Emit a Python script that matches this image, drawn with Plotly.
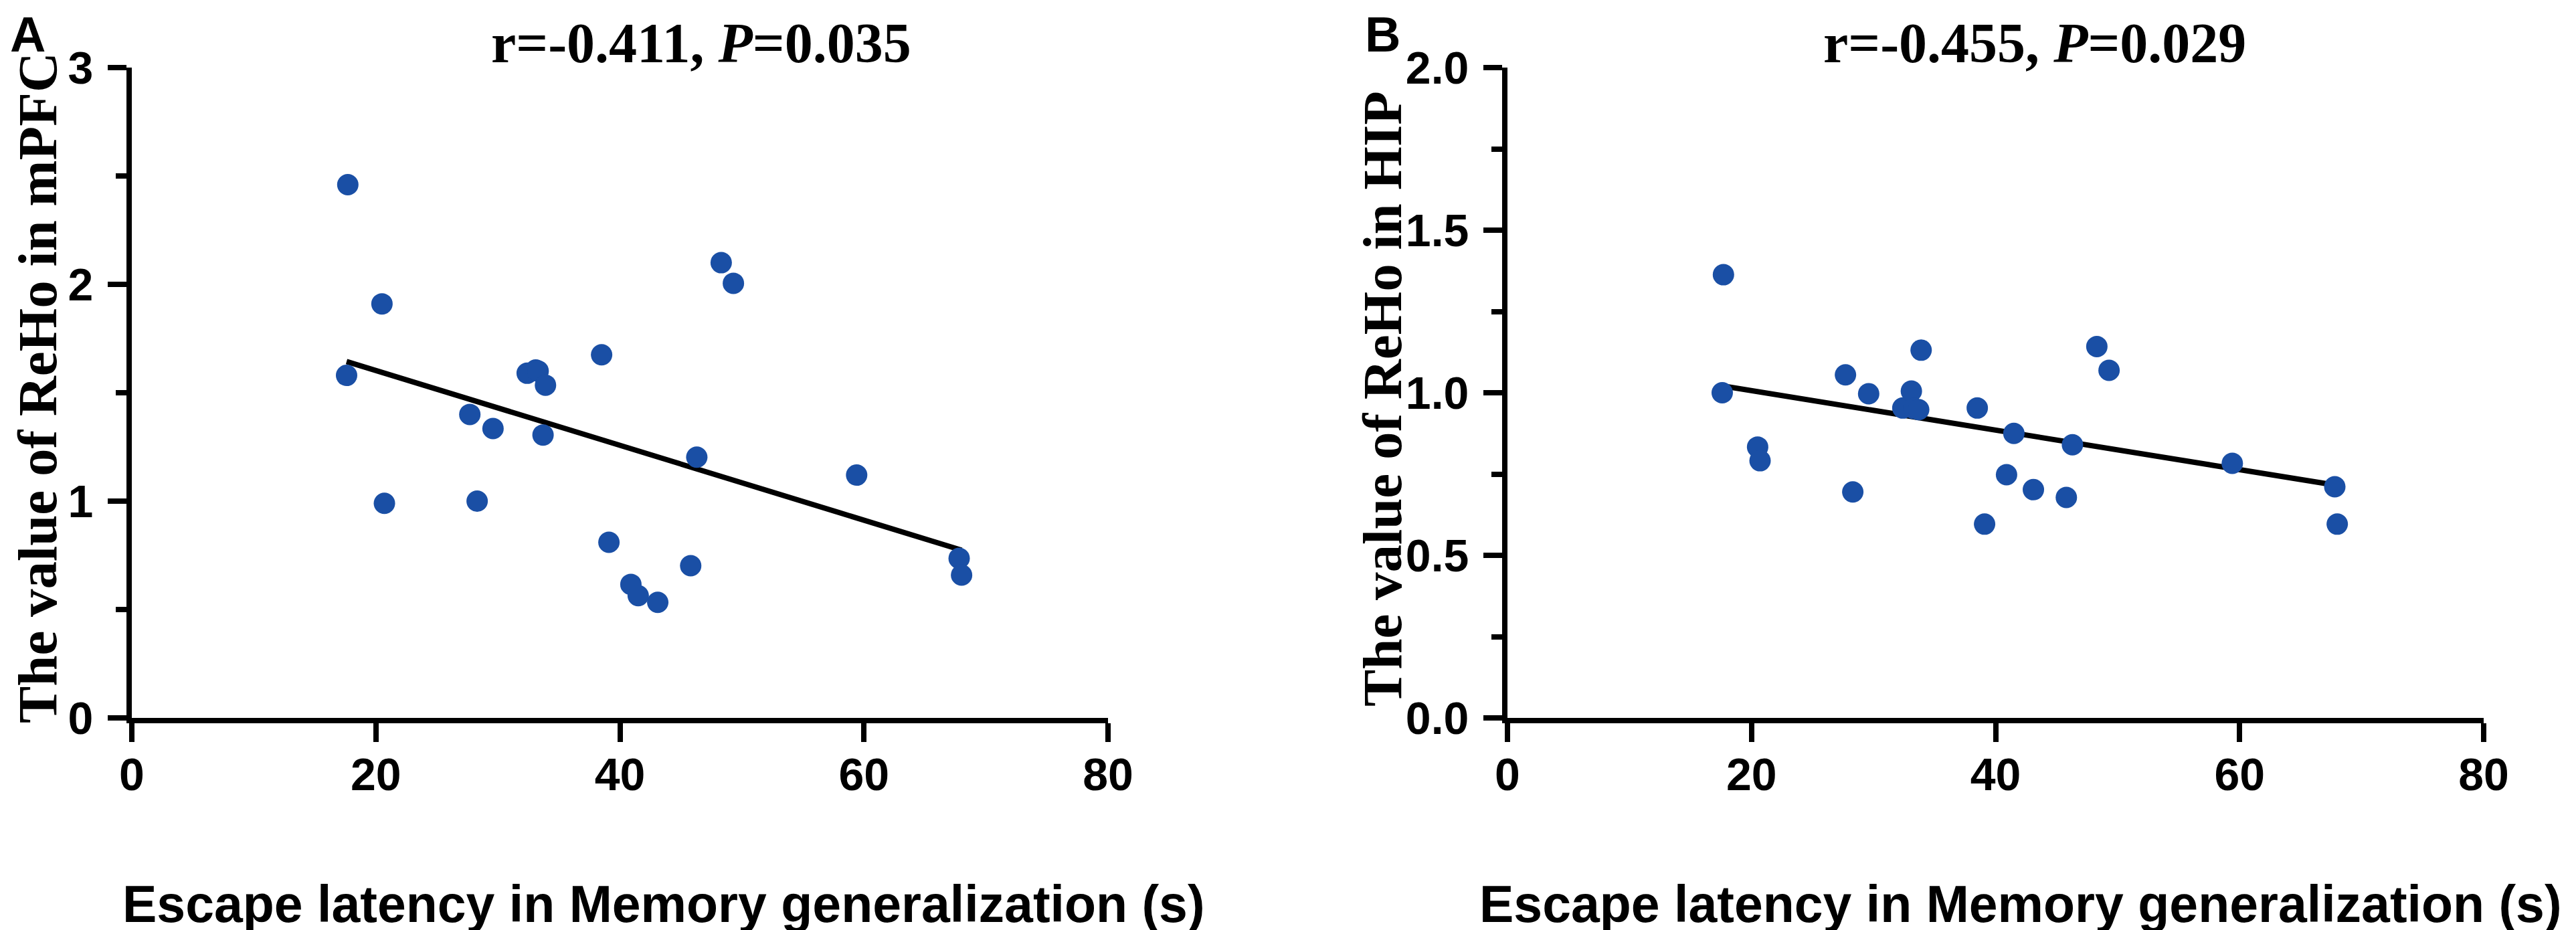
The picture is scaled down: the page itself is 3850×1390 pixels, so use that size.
import plotly.graph_objects as go

# ---- data ----
escape_latency = [17.6, 17.7, 20.5, 20.7, 27.7, 28.3, 29.6, 32.4, 33.1, 33.3, 33.7, 33.9,
                  38.5, 39.1, 40.9, 41.5, 43.1, 45.8, 46.3, 48.3, 49.3, 59.4, 67.8, 68.0]
reho_mpfc = [1.58, 2.46, 1.91, 0.99, 1.40, 1.00, 1.335, 1.59, 1.605, 1.60, 1.305, 1.535,
             1.675, 0.81, 0.616, 0.564, 0.533, 0.702, 1.203, 2.10, 2.005, 1.12, 0.736, 0.659]
reho_hip = [1.00, 1.363, 0.833, 0.791, 1.055, 0.695, 0.997, 0.953, 1.005, 0.952, 0.948, 1.131,
            0.953, 0.596, 0.748, 0.875, 0.702, 0.678, 0.840, 1.142, 1.069, 0.783, 0.711, 0.596]

fit_x = [17.6, 68.0]
fit_mpfc = [1.644, 0.774]
fit_hip = [1.021, 0.715]

x_ticks = [0, 20, 40, 60, 80]
y_ticks_a = [0, 1, 2, 3]
y_ticks_b = [0.0, 0.5, 1.0, 1.5, 2.0]

titles = ["<b>r=-0.411, <i>P</i>=0.035</b>", "<b>r=-0.455, <i>P</i>=0.029</b>"]
y_titles = ["<b>The value of ReHo in mPFC</b>", "<b>The value of ReHo in HIP</b>"]
x_title = "<b>Escape latency in Memory generalization (s)</b>"
panel_letters = ["<b>A</b>", "<b>B</b>"]

# ---- figure ----
W, H = 3850, 1390
BLUE = "#1a4fa5"
SANS = "Liberation Sans, Arial, sans-serif"
SERIF = "Liberation Serif, Times New Roman, serif"

fig = go.Figure()
for i, (yv, fy) in enumerate([(reho_mpfc, fit_mpfc), (reho_hip, fit_hip)]):
    xa = "x" if i == 0 else "x2"
    ya = "y" if i == 0 else "y2"
    fig.add_trace(go.Scatter(x=fit_x, y=fy, mode="lines", xaxis=xa, yaxis=ya,
                             line=dict(color="black", width=8), showlegend=False,
                             hoverinfo="skip"))
    fig.add_trace(go.Scatter(x=escape_latency, y=yv, mode="markers", xaxis=xa, yaxis=ya,
                             marker=dict(color=BLUE, size=32, line=dict(width=0)),
                             showlegend=False))

px = lambda p: p / W
py = lambda p: 1 - p / H

tickfont = dict(family=SANS, size=68, color="black", weight="bold")
common_axis = dict(showline=True, linewidth=8, linecolor="black", ticks="outside",
                   ticklen=28, tickwidth=8, tickcolor="black", showgrid=False,
                   zeroline=False, tickfont=tickfont, automargin=False)

x_dom = [(189, 1648), (2245, 3704)]
y_top, y_bot = 93, 1065

fig.update_layout(
    template="none",
    width=W, height=H, margin=dict(l=0, r=0, t=0, b=0, pad=0, autoexpand=False),
    paper_bgcolor="white", plot_bgcolor="white",
    xaxis=dict(domain=[px(x_dom[0][0]), px(x_dom[0][1])], range=[0, 80],
               tickvals=x_ticks, anchor="y", ticklabelstandoff=-10, **common_axis),
    yaxis=dict(domain=[py(y_bot), py(y_top)], range=[0, 3], tickvals=y_ticks_a,
               anchor="x", ticklabelstandoff=8,
               minor=dict(dtick=0.5, ticks="outside", ticklen=16, tickwidth=8, tickcolor="black"),
               **common_axis),
    xaxis2=dict(domain=[px(x_dom[1][0]), px(x_dom[1][1])], range=[0, 80],
                tickvals=x_ticks, anchor="y2", ticklabelstandoff=-10, **common_axis),
    yaxis2=dict(domain=[py(y_bot), py(y_top)], range=[0, 2], tickvals=y_ticks_b,
                tickformat=".1f", anchor="x2", ticklabelstandoff=8,
                minor=dict(dtick=0.25, ticks="outside", ticklen=16, tickwidth=8, tickcolor="black"),
                **common_axis),
)

ann = []
title_cx = [1040, 3033]
ytitle_cx = [48, 2058]
ytitle_cy = [572, 588]
xtitle_cx = [984, 3012]
letter_x = [5, 2030]
for i in range(2):
    ann.append(dict(text=titles[i], x=px(title_cx[i]), y=py(56), xref="paper", yref="paper",
                    xanchor="center", yanchor="middle", showarrow=False,
                    font=dict(family=SERIF, size=84, color="black")))
    ann.append(dict(text=y_titles[i], x=px(ytitle_cx[i]), y=py(ytitle_cy[i]), xref="paper",
                    yref="paper", xanchor="center", yanchor="middle", showarrow=False,
                    textangle=-90, font=dict(family=SERIF, size=83, color="black")))
    ann.append(dict(text=x_title, x=px(xtitle_cx[i]), y=py(1343), xref="paper", yref="paper",
                    xanchor="center", yanchor="middle", showarrow=False,
                    font=dict(family=SANS, size=77, color="black")))
    ann.append(dict(text=panel_letters[i], x=px(letter_x[i]), y=1.0, xref="paper", yref="paper",
                    xanchor="left", yanchor="top", showarrow=False,
                    font=dict(family=SANS, size=74, color="black")))
fig.update_layout(annotations=ann)

fig.write_html("out.html")
